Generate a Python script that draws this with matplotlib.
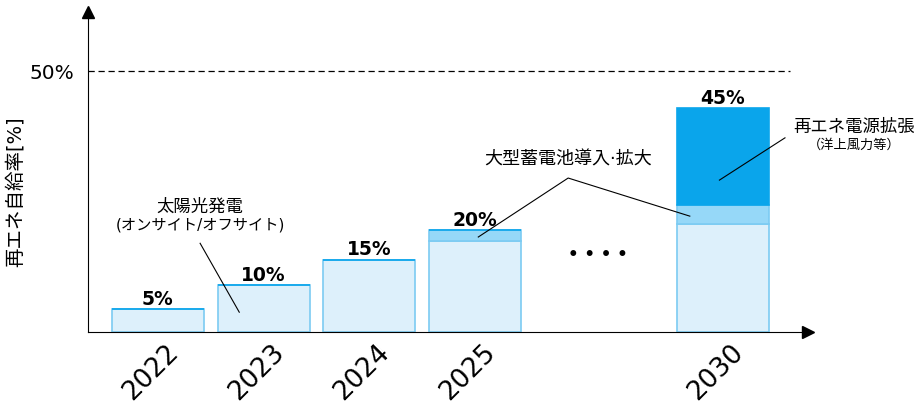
import numpy as np
import matplotlib.pyplot as plt
from matplotlib.transforms import ScaledTranslation

plt.rcParams['font.family'] = ['DejaVu Sans', 'Noto Sans CJK JP']

years = ['2022', '2023', '2024', '2025', '2030']
x_pos = [0, 1, 2, 3, 5.34]
solar = [4.4, 9.0, 13.8, 17.4, 20.7]
storage = [0, 0, 0, 2.1, 3.6]
expansion = [0, 0, 0, 0, 18.6]
value_labels = ['5%', '10%', '15%', '20%', '45%']

light = '#ddf0fb'
light_edge = '#7ccbf2'
mid = '#96d8f8'
dark = '#0aa5eb'

fig = plt.figure(figsize=(9.14, 4.01), dpi=100)
ax = fig.add_axes([0.0963, 0.172, 0.788, 0.798])

w = 0.87
ax.bar(x_pos, solar, width=w, color=light, edgecolor=light_edge, linewidth=1.2)
ax.bar(x_pos, storage, width=w, bottom=solar, color=mid, edgecolor=light_edge, linewidth=1.2)
bottom2 = np.array(solar) + np.array(storage)
ax.bar(x_pos, expansion, width=w, bottom=bottom2, color=dark, edgecolor=dark, linewidth=1.2)

totals = bottom2 + np.array(expansion)
for x, t, lab in zip(x_pos, totals, value_labels):
    ax.text(x, t + 0.1, lab, ha='center', va='bottom', fontsize=13.5, fontweight='bold')

ax.hlines(50, -0.66, 5.98, colors='black', linestyles=(0, (5, 3)), linewidth=0.9)

ax.set_xlim(-0.66, 6.15)
ax.set_ylim(0, 61.3)
for s in ['top', 'right']:
    ax.spines[s].set_visible(False)
ax.plot(1, 0, '>k', markersize=8, transform=ax.transAxes, clip_on=False)
ax.plot(0, 1, '^k', markersize=8, transform=ax.transAxes, clip_on=False)

# year labels, rotated and nudged a little to the left
ax.set_xticks(x_pos)
ax.set_xticklabels([])
ax.tick_params(axis='x', length=0)
shift = ScaledTranslation(-7 / 100, -7 / 100, fig.dpi_scale_trans)
for x, yr in zip(x_pos, years):
    ax.text(x, 0, yr, rotation=45, fontsize=19, ha='center', va='top',
            transform=ax.get_xaxis_transform() + shift)

ax.set_yticks([50])
ax.set_yticklabels(['50%'], fontsize=14.5)
ax.tick_params(axis='y', length=0, pad=10)
ax.set_ylabel('再エネ自給率[%]', fontsize=14)
ax.yaxis.set_label_coords(-63 / 720, 0.44)

# annotations
ax.text(0.40, 23.9, '太陽光発電', ha='center', va='center', fontsize=12.5)
ax.text(0.40, 20.5, '(オンサイト/オフサイト)', ha='center', va='center', fontsize=11)
ax.plot([0.40, 0.77], [17.0, 3.8], color='black', linewidth=0.8)

ax.text(3.88, 33.0, '大型蓄電池導入·拡大', ha='center', va='center', fontsize=13)
ax.plot([3.03, 3.88, 5.03], [18.2, 29.5, 22.2], color='black', linewidth=0.8)

ax.text(6.58, 39.3, '再エネ電源拡張', ha='center', va='center', fontsize=12.5)
ax.text(6.58, 35.8, '（洋上風力等）', ha='center', va='center', fontsize=9.5)
ax.plot([5.93, 5.31], [37.2, 29.1], color='black', linewidth=0.8)

ax.text(4.16, 14.8, '• • • •', ha='center', va='center', fontsize=12, fontweight='bold')

fig.savefig('out.png', dpi=100)
